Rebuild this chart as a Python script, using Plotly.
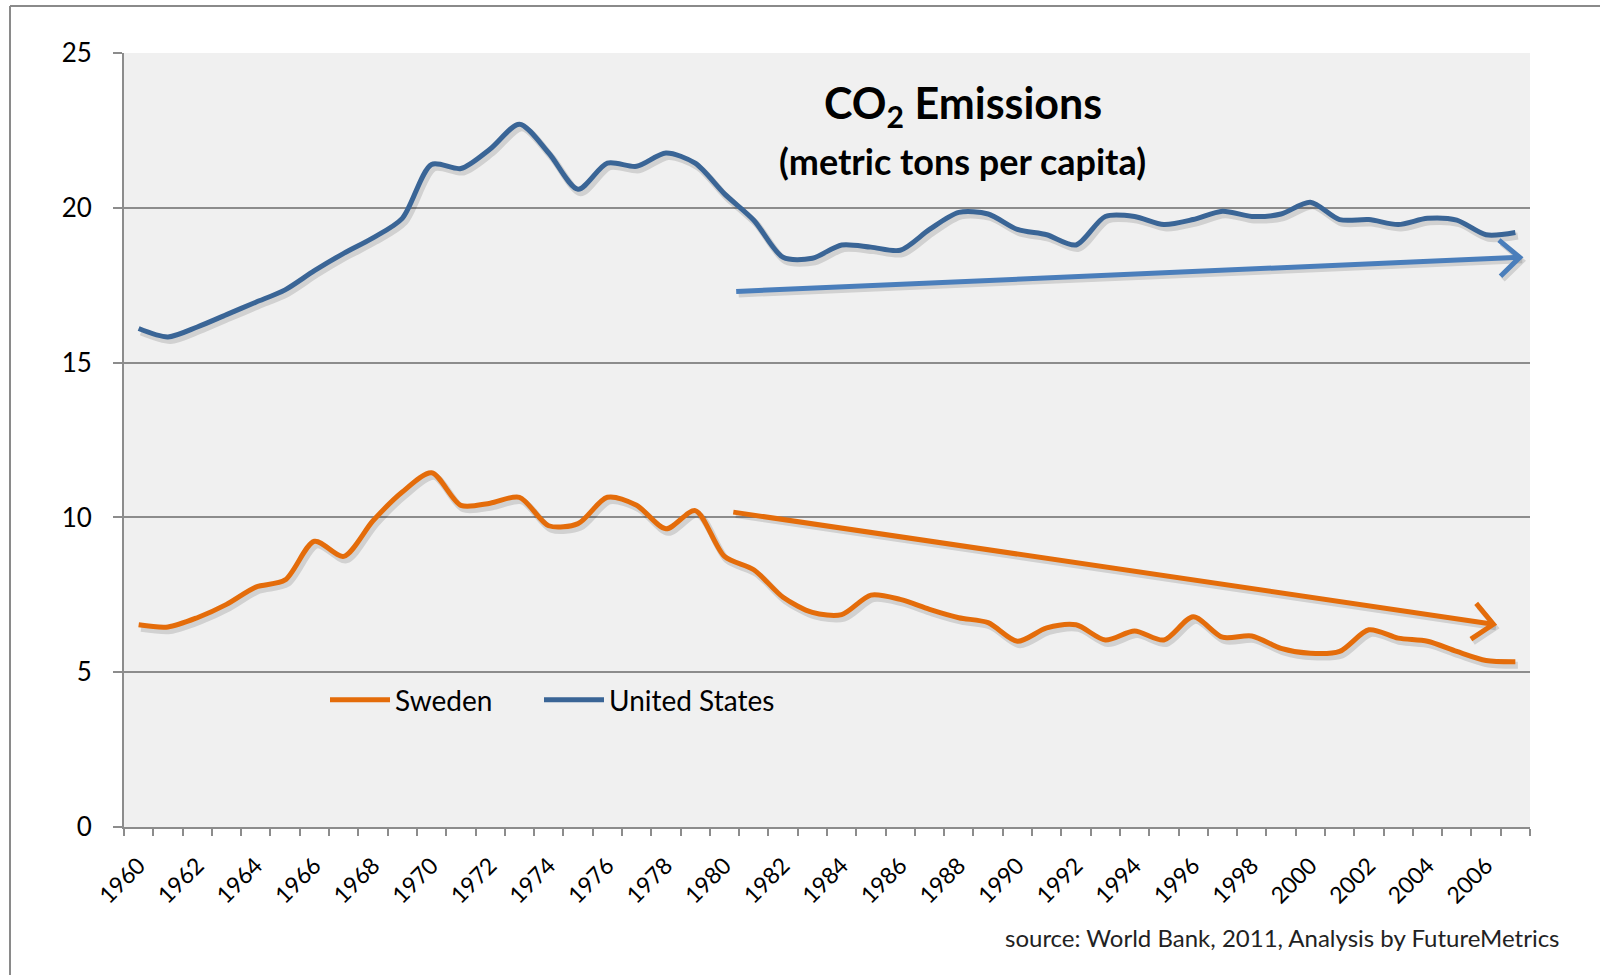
import math
import plotly.graph_objects as go

# ---------------- data ----------------
years = list(range(1960, 2008))
united_states = [16.1, 15.83, 16.15, 16.55, 16.95, 17.35, 17.97, 18.53, 19.03, 19.66,
                 21.4, 21.27, 21.9, 22.7, 21.77, 20.6, 21.44, 21.34, 21.77, 21.44,
                 20.45, 19.6, 18.4, 18.37, 18.8, 18.73, 18.63, 19.3, 19.85, 19.8,
                 19.3, 19.13, 18.8, 19.72, 19.72, 19.46, 19.62, 19.89, 19.72, 19.8,
                 20.18, 19.62, 19.62, 19.46, 19.66, 19.6, 19.13, 19.2]
sweden = [6.53, 6.46, 6.76, 7.19, 7.75, 7.98, 9.23, 8.74, 9.89, 10.82,
          11.44, 10.39, 10.46, 10.65, 9.73, 9.8, 10.65, 10.39, 9.63, 10.22,
          8.74, 8.31, 7.42, 6.93, 6.86, 7.49, 7.35, 7.03, 6.76, 6.6,
          6.0, 6.43, 6.53, 6.04, 6.33, 6.04, 6.79, 6.13, 6.17, 5.77,
          5.61, 5.67, 6.37, 6.1, 6.0, 5.67, 5.38, 5.34]
tick_years = list(range(1960, 2007, 2))
y_ticks = [0, 5, 10, 15, 20, 25]
# trend arrows: (x0, y0, x1, y1) in data units
us_trend = (1980.4, 17.3, 2007.15, 18.4)
se_trend = (1980.3, 10.17, 2006.25, 6.55)

# ---------------- styling ----------------
W, H = 1600, 975
ML, MR, MT, MB = 124, 70, 53, 148
PW, PH = W - ML - MR, H - MT - MB
X0, X1 = 1959.5, 2007.5
Y0, Y1 = 0, 25
ORANGE = "#E46C0A"
BLUE = "#3A6596"
ARROW_BLUE = "#4A7EBB"
GRID = "#8C8C8C"
FONT = "Lato"


def to_px(x, y):
    return ML + (x - X0) / (X1 - X0) * PW, MT + (Y1 - y) / (Y1 - Y0) * PH


def to_data(px, py):
    return X0 + (px - ML) / PW * (X1 - X0), Y1 - (py - MT) / PH * (Y1 - Y0)


def paper_x(px):
    return (px - ML) / PW


def paper_y(py):
    return (H - MB - py) / PH


fig = go.Figure()

# shadows (offset a few pixels down-right)
sdx = 2.5 / PW * (X1 - X0)
sdy = 3.5 / PH * (Y1 - Y0)
for vals in (sweden, united_states):
    fig.add_trace(go.Scatter(x=[v + sdx for v in years], y=[v - sdy for v in vals],
                             mode="lines", line=dict(color="rgba(0,0,0,0.13)", width=7,
                                                     shape="spline", smoothing=0.8),
                             showlegend=False, hoverinfo="skip"))

fig.add_trace(go.Scatter(x=years, y=sweden, name="Sweden", mode="lines", legend="legend",
                         line=dict(color=ORANGE, width=5, shape="spline", smoothing=0.8)))
fig.add_trace(go.Scatter(x=years, y=united_states, name="United States", mode="lines",
                         legend="legend2",
                         line=dict(color=BLUE, width=5, shape="spline", smoothing=0.8)))

# trend arrows drawn as shapes
shapes = []


def add_arrow(seg, color):
    x0, y0, x1, y1 = seg
    p0 = to_px(x0, y0)
    p1 = to_px(x1, y1)
    ang = math.atan2(p1[1] - p0[1], p1[0] - p0[0])
    arm = 27
    spread = math.radians(42)
    path = []
    for sgn in (1, -1):
        a = ang + math.pi + sgn * spread
        q = (p1[0] + arm * math.cos(a), p1[1] + arm * math.sin(a))
        path.append(to_data(*q))
    for off, col in (((2.5, 3.5), "rgba(0,0,0,0.13)"), ((0, 0), color)):
        ox = off[0] / PW * (X1 - X0)
        oy = off[1] / PH * (Y1 - Y0)
        shapes.append(dict(type="line", xref="x", yref="y", x0=x0 + ox, y0=y0 - oy,
                           x1=x1 + ox, y1=y1 - oy, line=dict(color=col, width=5)))
        d = "M {},{} L {},{} L {},{}".format(path[0][0] + ox, path[0][1] - oy,
                                              x1 + ox, y1 - oy,
                                              path[1][0] + ox, path[1][1] - oy)
        shapes.append(dict(type="path", xref="x", yref="y", path=d,
                           line=dict(color=col, width=5)))


add_arrow(us_trend, ARROW_BLUE)
add_arrow(se_trend, ORANGE)

# outer chart frame (left and top edges)
shapes.append(dict(type="line", xref="paper", yref="paper",
                   x0=paper_x(10), x1=paper_x(10), y0=paper_y(H + 5), y1=paper_y(6),
                   line=dict(color="#8A8A8A", width=2)))
shapes.append(dict(type="line", xref="paper", yref="paper",
                   x0=paper_x(10), x1=paper_x(W + 5), y0=paper_y(6), y1=paper_y(6),
                   line=dict(color="#8A8A8A", width=2)))

annotations = [
    dict(text="<b>CO<sub>2</sub> Emissions</b>", xref="paper", yref="paper",
         x=paper_x(963), y=paper_y(106), showarrow=False,
         font=dict(family=FONT, size=43, color="#000000"), xanchor="center", yanchor="middle"),
    dict(text="<b>(metric tons per capita)</b>", xref="paper", yref="paper",
         x=paper_x(962), y=paper_y(161), showarrow=False,
         font=dict(family=FONT, size=36, color="#000000"), xanchor="center", yanchor="middle"),
    dict(text="source: World Bank, 2011, Analysis by FutureMetrics", xref="paper", yref="paper",
         x=paper_x(1562), y=paper_y(937), showarrow=False,
         font=dict(family=FONT, size=24, color="#222222"), xanchor="right", yanchor="middle"),
]

legend_style = dict(orientation="h", xanchor="left", yanchor="middle",
                    bgcolor="rgba(0,0,0,0)", font=dict(family=FONT, size=28, color="#000000"),
                    itemwidth=60, tracegroupgap=0)

fig.update_layout(
    width=W, height=H, autosize=False,
    margin=dict(l=ML, r=MR, t=MT, b=MB),
    paper_bgcolor="white", plot_bgcolor="#F0F0F0",
    font=dict(family=FONT, size=16, color="#000000"),
    shapes=shapes, annotations=annotations,
    legend=dict(x=paper_x(325), y=paper_y(700), **legend_style),
    legend2=dict(x=paper_x(539), y=paper_y(700), **legend_style),
    xaxis=dict(range=[X0, X1], tickmode="array", tickvals=tick_years,
               ticktext=[str(t) for t in tick_years], tickangle=-45,
               ticks="", showgrid=False, zeroline=False,
               showline=True, linecolor=GRID, linewidth=2,
               ticklabelstandoff=14,
               tickfont=dict(family=FONT, size=23, color="#000000"),
               minor=dict(tickmode="array", tickvals=[y - 0.5 for y in years] + [years[-1] + 0.5],
                          ticks="outside", ticklen=7, tickcolor=GRID, tickwidth=1.5,
                          showgrid=False)),
    yaxis=dict(range=[Y0, Y1], tickmode="array", tickvals=y_ticks,
               ticks="outside", ticklen=9, tickcolor=GRID, tickwidth=2,
               showgrid=True, gridcolor=GRID, gridwidth=1.5, zeroline=False,
               showline=True, linecolor=GRID, linewidth=2,
               ticklabelstandoff=16,
               tickfont=dict(family=FONT, size=26, color="#000000")),
)

fig.write_html("out.html", config={"displayModeBar": False},
               post_script="document.body.style.margin='0';")
